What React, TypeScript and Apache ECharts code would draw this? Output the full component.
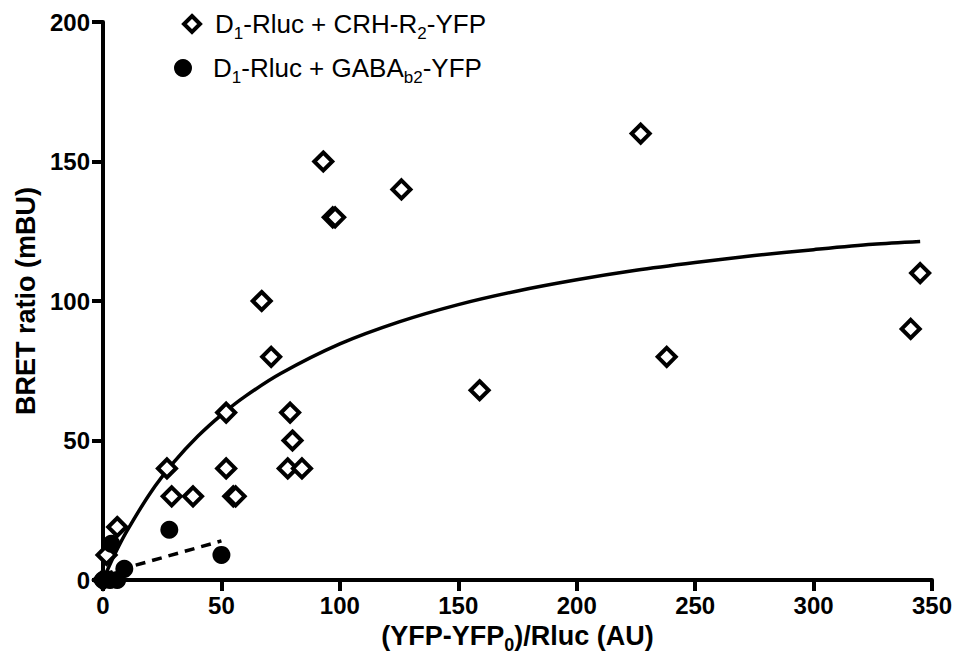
import React, { useEffect, useRef } from 'react';
import * as echarts from 'echarts';

const CRH_NAME = 'D1-Rluc + CRH-R2-YFP';
const GABA_NAME = 'D1-Rluc + GABAb2-YFP';

// D1-Rluc + CRH-R2-YFP (open diamonds): [x (AU), BRET (mBU)]
const crhPoints: [number, number][] = [
  [0, 0], [1.5, 9], [6, 19], [27, 40], [29, 30], [38, 30], [52, 40], [52, 60],
  [55, 30], [56, 30], [67, 100], [71, 80], [79, 60], [80, 50], [78, 40], [84, 40],
  [93, 150], [97, 130], [98, 130], [126, 140], [159, 68], [227, 160], [238, 80],
  [341, 90], [345, 110],
];

// D1-Rluc + GABAb2-YFP (filled circles)
const gabaPoints: [number, number][] = [
  [0, 0], [3, 0], [6, 0], [3.5, 13], [9, 4], [28, 18], [50, 9],
];

// Saturation curve (solid)
const curveX = [0, 5, 10, 20, 30, 40, 50, 60, 75, 100, 125, 150, 175, 200, 225, 250, 275, 300, 325, 345];
const curveY = [0, 9.3, 17.4, 31.2, 42.3, 51.5, 59.2, 65.8, 74, 84.6, 92.5, 98.7, 103.6, 107.6, 111, 113.8, 116.3, 118.4, 120.3, 121.3];

// Linear fit for GABAb2 (dashed)
const dashX = [0, 50];
const dashY = [2, 14];

const xTicks = { min: 0, max: 350, interval: 50 };
const yTicks = { min: 0, max: 200, interval: 50 };

const FONT = '"Liberation Sans", Arial, Helvetica, sans-serif';

export default function App() {
  const ref = useRef<HTMLDivElement>(null);

  useEffect(() => {
    if (!ref.current) return;
    const chart = echarts.init(ref.current, undefined, { renderer: 'svg' });

    const mkLegendRich = (gap: number) => ({
      g: { width: gap, lineHeight: 34 },
      n: { fontSize: 26, fontFamily: FONT, color: '#000', lineHeight: 36 },
      s: { fontSize: 17, fontFamily: FONT, color: '#000', lineHeight: 17, verticalAlign: 'bottom' },
    });
    const titleRich = {
      n: { fontSize: 27, fontWeight: 'bold', fontFamily: FONT, color: '#000', lineHeight: 36 },
      s: { fontSize: 18, fontWeight: 'bold', fontFamily: FONT, color: '#000', lineHeight: 18, verticalAlign: 'bottom' },
    };

    const axisCommon = {
      type: 'value',
      axisLine: { show: true, onZero: false, lineStyle: { color: '#000', width: 4 } },
      axisTick: { show: true, inside: false, length: 11, lineStyle: { color: '#000', width: 4 } },
      axisLabel: { color: '#000', fontSize: 24, fontWeight: 'bold', fontFamily: FONT, margin: 13 },
      splitLine: { show: false },
    };

    chart.setOption({
      animation: false,
      backgroundColor: '#fff',
      grid: { left: 103, right: 31, top: 22, bottom: 83, containLabel: false },
      legend: [
        {
          data: [{ name: CRH_NAME, icon: 'diamond' }],
          left: 177,
          top: 6,
          itemWidth: 16,
          itemHeight: 16,
          selectedMode: false,
          itemStyle: { color: '#fff', borderColor: '#000', borderWidth: 4 },
          formatter: () => '{g|}{n|D}{s|1}{n|-Rluc + CRH-R}{s|2}{n|-YFP}',
          textStyle: { rich: mkLegendRich(10) },
        },
        {
          data: [{ name: GABA_NAME, icon: 'circle' }],
          left: 169,
          top: 50,
          itemWidth: 18,
          itemHeight: 18,
          selectedMode: false,
          itemStyle: { color: '#000', borderWidth: 0 },
          formatter: () => '{g|}{n|D}{s|1}{n|-Rluc + GABA}{s|b2}{n|-YFP}',
          textStyle: { rich: mkLegendRich(16) },
        },
      ],
      xAxis: {
        ...axisCommon,
        ...xTicks,
        name: '{n|(YFP-YFP}{s|0}{n|)/Rluc (AU)}',
        nameLocation: 'middle',
        nameGap: 38,
        nameTextStyle: { rich: titleRich },
      },
      yAxis: {
        ...axisCommon,
        ...yTicks,
        name: 'BRET ratio (mBU)',
        nameLocation: 'middle',
        nameGap: 59,
        nameRotate: 90,
        nameTextStyle: { fontSize: 27, fontWeight: 'bold', fontFamily: FONT, color: '#000' },
      },
      series: [
        {
          name: 'fit',
          type: 'line',
          data: curveX.map((x, i) => [x, curveY[i]]),
          symbol: 'none',
          smooth: 0.3,
          lineStyle: { color: '#000', width: 3.5 },
          z: 1,
          silent: true,
        },
        {
          name: 'linear',
          type: 'line',
          data: dashX.map((x, i) => [x, dashY[i]]),
          symbol: 'none',
          lineStyle: { color: '#000', width: 3.5, type: [10, 7] },
          z: 1,
          silent: true,
        },
        {
          name: CRH_NAME,
          type: 'scatter',
          data: crhPoints,
          symbol: 'diamond',
          symbolSize: 18,
          clip: false,
          itemStyle: { color: '#fff', borderColor: '#000', borderWidth: 4, opacity: 1 },
          z: 3,
        },
        {
          name: GABA_NAME,
          type: 'scatter',
          data: gabaPoints,
          symbol: 'circle',
          symbolSize: 18,
          clip: false,
          itemStyle: { color: '#000', opacity: 1 },
          z: 4,
        },
      ],
    });

    return () => chart.dispose();
  }, []);

  return (
    <div
      ref={ref}
      style={{ position: 'fixed', left: 0, top: 0, width: 963, height: 663, background: '#fff' }}
    />
  );
}
